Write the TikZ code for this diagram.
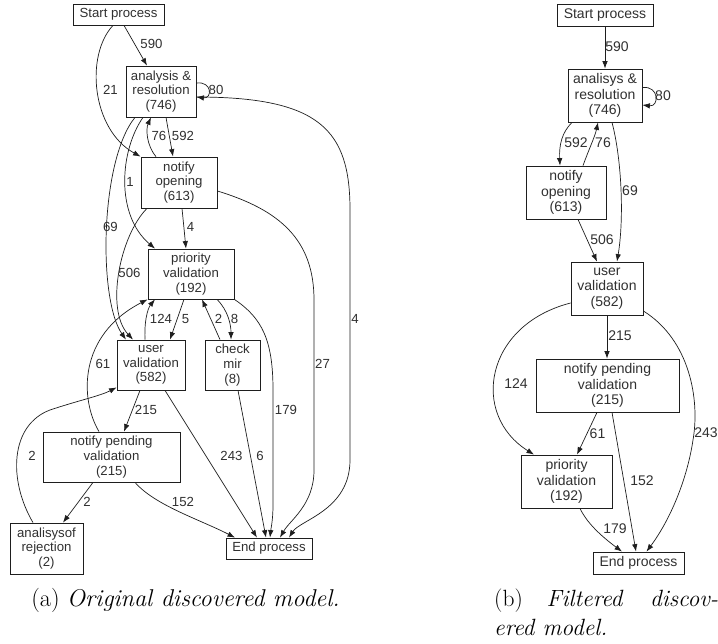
\documentclass[tikz,border=0pt]{standalone}
\usepackage{fontspec}
\newfontfamily\graphfont{Liberation Sans}
\usetikzlibrary{arrows.meta,calc}
\definecolor{ink}{HTML}{1E1E1E}
\definecolor{txt}{HTML}{303030}
\begin{document}
\begin{tikzpicture}[x=1pt,y=-1pt,
  boxL/.style={draw=ink, line width=0.8pt, text=txt, align=center, inner sep=0pt,
    font=\graphfont\fontsize{13.2}{14.7}\selectfont},
  boxR/.style={boxL, font=\graphfont\fontsize{14}{15.5}\selectfont},
  lblL/.style={text=txt, inner sep=0pt, font=\graphfont\fontsize{13.2}{14.7}\selectfont},
  lblR/.style={text=txt, inner sep=0pt, font=\graphfont\fontsize{14}{15.5}\selectfont},
  flow/.style={draw=ink, line width=0.7pt, -{Latex[length=7.5pt,width=5.5pt]}},
  capfont/.style={inner sep=0pt, font=\fontsize{23.5}{29}\selectfont}
]
\useasboundingbox (0,0) rectangle (718,643);

% ---------------- (a) original model ----------------
\node[boxL, minimum width=91pt, minimum height=21pt] (sL) at (118.5,14.5) {Start process};
\node[boxL, minimum width=70pt, minimum height=51pt] (arL) at (161,91.5) {analysis \&\\resolution\\(746)};
\node[boxL, minimum width=76pt, minimum height=51pt] (noL) at (179,182.5) {notify\\opening\\(613)};
\node[boxL, minimum width=86pt, minimum height=50pt] (pvL) at (191,274) {priority\\validation\\(192)};
\node[boxL, minimum width=68pt, minimum height=50pt] (uvL) at (151,365) {user\\validation\\(582)};
\node[boxL, minimum width=55pt, minimum height=50pt] (cmL) at (232.5,365) {check\\mir\\(8)};
\node[boxL, minimum width=137pt, minimum height=50pt] (npL) at (111.5,457) {notify pending\\validation\\(215)};
\node[boxL, minimum width=73pt, minimum height=51pt] (rjL) at (46.5,548.5) {analisysof\\rejection\\(2)};
\node[boxL, minimum width=86pt, minimum height=21pt] (enL) at (269,548.5) {End process};

\draw[flow] ($(sL.south)+(5.5,0)$) -- ($(arL.north)+(-14,0)$);
\draw[flow] ($(sL.south)+(-5.5,0)$) .. controls +(-28,30) and +(-49,-27) .. (noL.north west);
\draw[flow] ($(arL.east)+(0,-8.5)$) .. controls +(16,-2) and +(16,2) .. ($(arL.east)+(0,5.5)$);
\draw[flow] ($(arL.south)+(5,0)$) -- ($(noL.north)+(-6,0)$);
\draw[flow] ($(noL.north)+(-23,0)$) .. controls +(-10,-12) and +(-5,11) .. ($(arL.south)+(-10,0)$);
\draw[flow] ($(arL.south)+(-18,0)$) .. controls +(-23,33) and +(-40,-34) .. ($(pvL.north)+(-36,0)$);
\draw[flow] ($(arL.south)+(-26,0)$) .. controls +(-35,43) and +(-28,-40) .. ($(uvL.north)+(-25,0)$);
\draw[flow] ($(noL.south)+(-32,0)$) .. controls +(-27,27) and +(-28,-30) .. ($(uvL.north)+(-18,0)$);
\draw[flow] ($(noL.south)+(3,0)$) -- ($(pvL.north)+(-5,0)$);
\draw[flow] ($(arL.east)+(0,5.5)$) .. controls (320,97) and (350,130) .. (350,210)
  -- (350,460) .. controls (350,510) and (300,520) .. ($(enL.north)+(20,0)$);
\draw[flow] ($(noL.east)+(0,8.5)$) .. controls (280,210) and (314,240) .. (314,300)
  -- (314,470) .. controls (314,505) and (290,520) .. ($(enL.north)+(11,0)$);
\draw[flow] ($(pvL.south)+(-7,0)$) -- ($(uvL.north)+(19,0)$);
\draw[flow] ($(uvL.north)+(-6,0)$) .. controls +(-1,-25) and +(-5,6) .. ($(pvL.south)+(-36,0)$);
\draw[flow] ($(pvL.south)+(26,0)$) .. controls +(11,11) and +(0,-15) .. ($(cmL.north)+(-1.5,0)$);
\draw[flow] ($(cmL.north)+(-12.5,0)$) -- ($(pvL.south)+(11,0)$);
\draw[flow] (pvL.south east) .. controls (262,318) and (273,340) .. (273,390)
  -- (273,505) .. controls (273,520) and (271,528) .. ($(enL.north)+(1,0)$);
\draw[flow] ($(cmL.south)+(5.5,0)$) -- ($(enL.north)+(-3,0)$);
\draw[flow] ($(uvL.south)+(-11,0)$) -- ($(npL.north)+(12.5,0)$);
\draw[flow] ($(uvL.south)+(14,0)$) -- ($(enL.north)+(-12,0)$);
\draw[flow] ($(npL.north)+(-12.5,0)$) .. controls +(-19,-32) and +(-70,36) .. (pvL.south west);
\draw[flow] ($(rjL.north)+(-13.5,0)$) .. controls (8,480) and (10,425) .. (50,410)
  .. controls (80,400) and (100,396) .. ($(uvL.south west)+(0,-3)$);
\draw[flow] ($(npL.south)+(-18.5,0)$) -- ($(rjL.north)+(16.5,0)$);
\draw[flow] ($(npL.south)+(23.5,0)$) .. controls +(20,23) and +(-35,-18) .. ($(enL.north)+(-34,0)$);

\node[lblL] (la590) at (151.5,44) {590};
\node[lblL] (la21) at (110.5,90) {21};
\node[lblL] (la80) at (216,90) {80};
\node[lblL] (la76) at (159,136) {76};
\node[lblL] (la592) at (183,136) {592};
\node[lblL] (la1) at (130,182) {1};
\node[lblL] (la69) at (110.5,227) {69};
\node[lblL] (la4b) at (190.5,227) {4};
\node[lblL] (la506) at (129.5,273) {506};
\node[lblL] (la124) at (161,319) {124};
\node[lblL] (la5) at (185.5,319) {5};
\node[lblL] (la2c) at (218.5,319) {2};
\node[lblL] (la8) at (234.5,319) {8};
\node[lblL] (la4a) at (355,319) {4};
\node[lblL] (la27) at (322.5,364) {27};
\node[lblL] (la61) at (103,364) {61};
\node[lblL] (la179) at (286,410) {179};
\node[lblL] (la215) at (146,410) {215};
\node[lblL] (la243) at (231.5,456) {243};
\node[lblL] (la6) at (260,456) {6};
\node[lblL] (la2r) at (32,456) {2};
\node[lblL] (la2n) at (87,502) {2};
\node[lblL] (la152) at (183,502) {152};

\node[capfont, font=\fontsize{24.3}{29}\selectfont, anchor=base] (capA) at (185.5,606)
  {(a) \textit{Original discovered model.}};

% ---------------- (b) filtered model ----------------
\node[boxR, minimum width=96pt, minimum height=22pt] (sR) at (605,15) {Start process};
\node[boxR, minimum width=74pt, minimum height=53pt] (arR) at (605,95.5) {analisys \&\\resolution\\(746)};
\node[boxR, minimum width=80pt, minimum height=53pt] (noR) at (566,192.5) {notify\\opening\\(613)};
\node[boxR, minimum width=72pt, minimum height=53pt] (uvR) at (607,288.5) {user\\validation\\(582)};
\node[boxR, minimum width=143pt, minimum height=53pt] (npR) at (607.5,385.5) {notify pending\\validation\\(215)};
\node[boxR, minimum width=91pt, minimum height=53pt] (pvR) at (566.5,481.5) {priority\\validation\\(192)};
\node[boxR, minimum width=91pt, minimum height=22pt] (enR) at (638.5,563) {End process};

\draw[flow] (sR.south) -- (arR.north);
\draw[flow] ($(arR.east)+(0,-8)$) .. controls +(17,-2) and +(17,2) .. ($(arR.east)+(0,9.5)$);
\draw[flow] ($(arR.south)+(-33,0)$) .. controls +(-10,10) and +(-1,-21) .. ($(noR.north)+(-6,0)$);
\draw[flow] ($(noR.north)+(17,0)$) .. controls +(5,-14) and +(-3,14) .. ($(arR.south)+(-7,0)$);
\draw[flow] ($(arR.south)+(7,0)$) .. controls +(10,38) and +(7,-42) .. ($(uvR.north)+(10,0)$);
\draw[flow] ($(noR.south)+(12,0)$) -- ($(uvR.north)+(-10,0)$);
\draw[flow] (uvR.south) -- (uvR.south |- npR.north);
\draw[flow] ($(uvR.west)+(0,14.5)$) .. controls +(-86,22) and +(-64,-40) .. ($(pvR.north)+(-32.5,0)$);
\draw[flow] ($(uvR.east)+(0,22.5)$) .. controls (690,340) and (700,400) .. (693,440)
  .. controls (687,480) and (670,520) .. ($(enR.north)+(8,0)$);
\draw[flow] ($(npR.south)+(-10.5,0)$) -- ($(pvR.north)+(10.5,0)$);
\draw[flow] ($(npR.south)+(4.5,0)$) -- ($(enR.north)+(-2.5,0)$);
\draw[flow] ($(pvR.south)+(13.5,0)$) .. controls +(8,17) and +(-16,-12) .. ($(enR.north)+(-16.5,0)$);

\node[lblR] (lb590) at (617,47) {590};
\node[lblR] (lb80) at (663,96) {80};
\node[lblR] (lb592) at (576,143) {592};
\node[lblR] (lb76) at (603,143) {76};
\node[lblR] (lb69) at (630,191) {69};
\node[lblR] (lb506) at (602,240) {506};
\node[lblR] (lb215) at (620,336) {215};
\node[lblR] (lb124) at (516,384) {124};
\node[lblR] (lb243) at (706,433) {243};
\node[lblR] (lb61) at (597.5,434) {61};
\node[lblR] (lb152) at (642,481) {152};
\node[lblR] (lb179) at (615,529) {179};

\node[capfont, anchor=base west, text width=224pt, align=justify] (capB) at (494,606)
  {(b) \textit{Filtered discov-\linebreak ered model.}};
\end{tikzpicture}
\end{document}
